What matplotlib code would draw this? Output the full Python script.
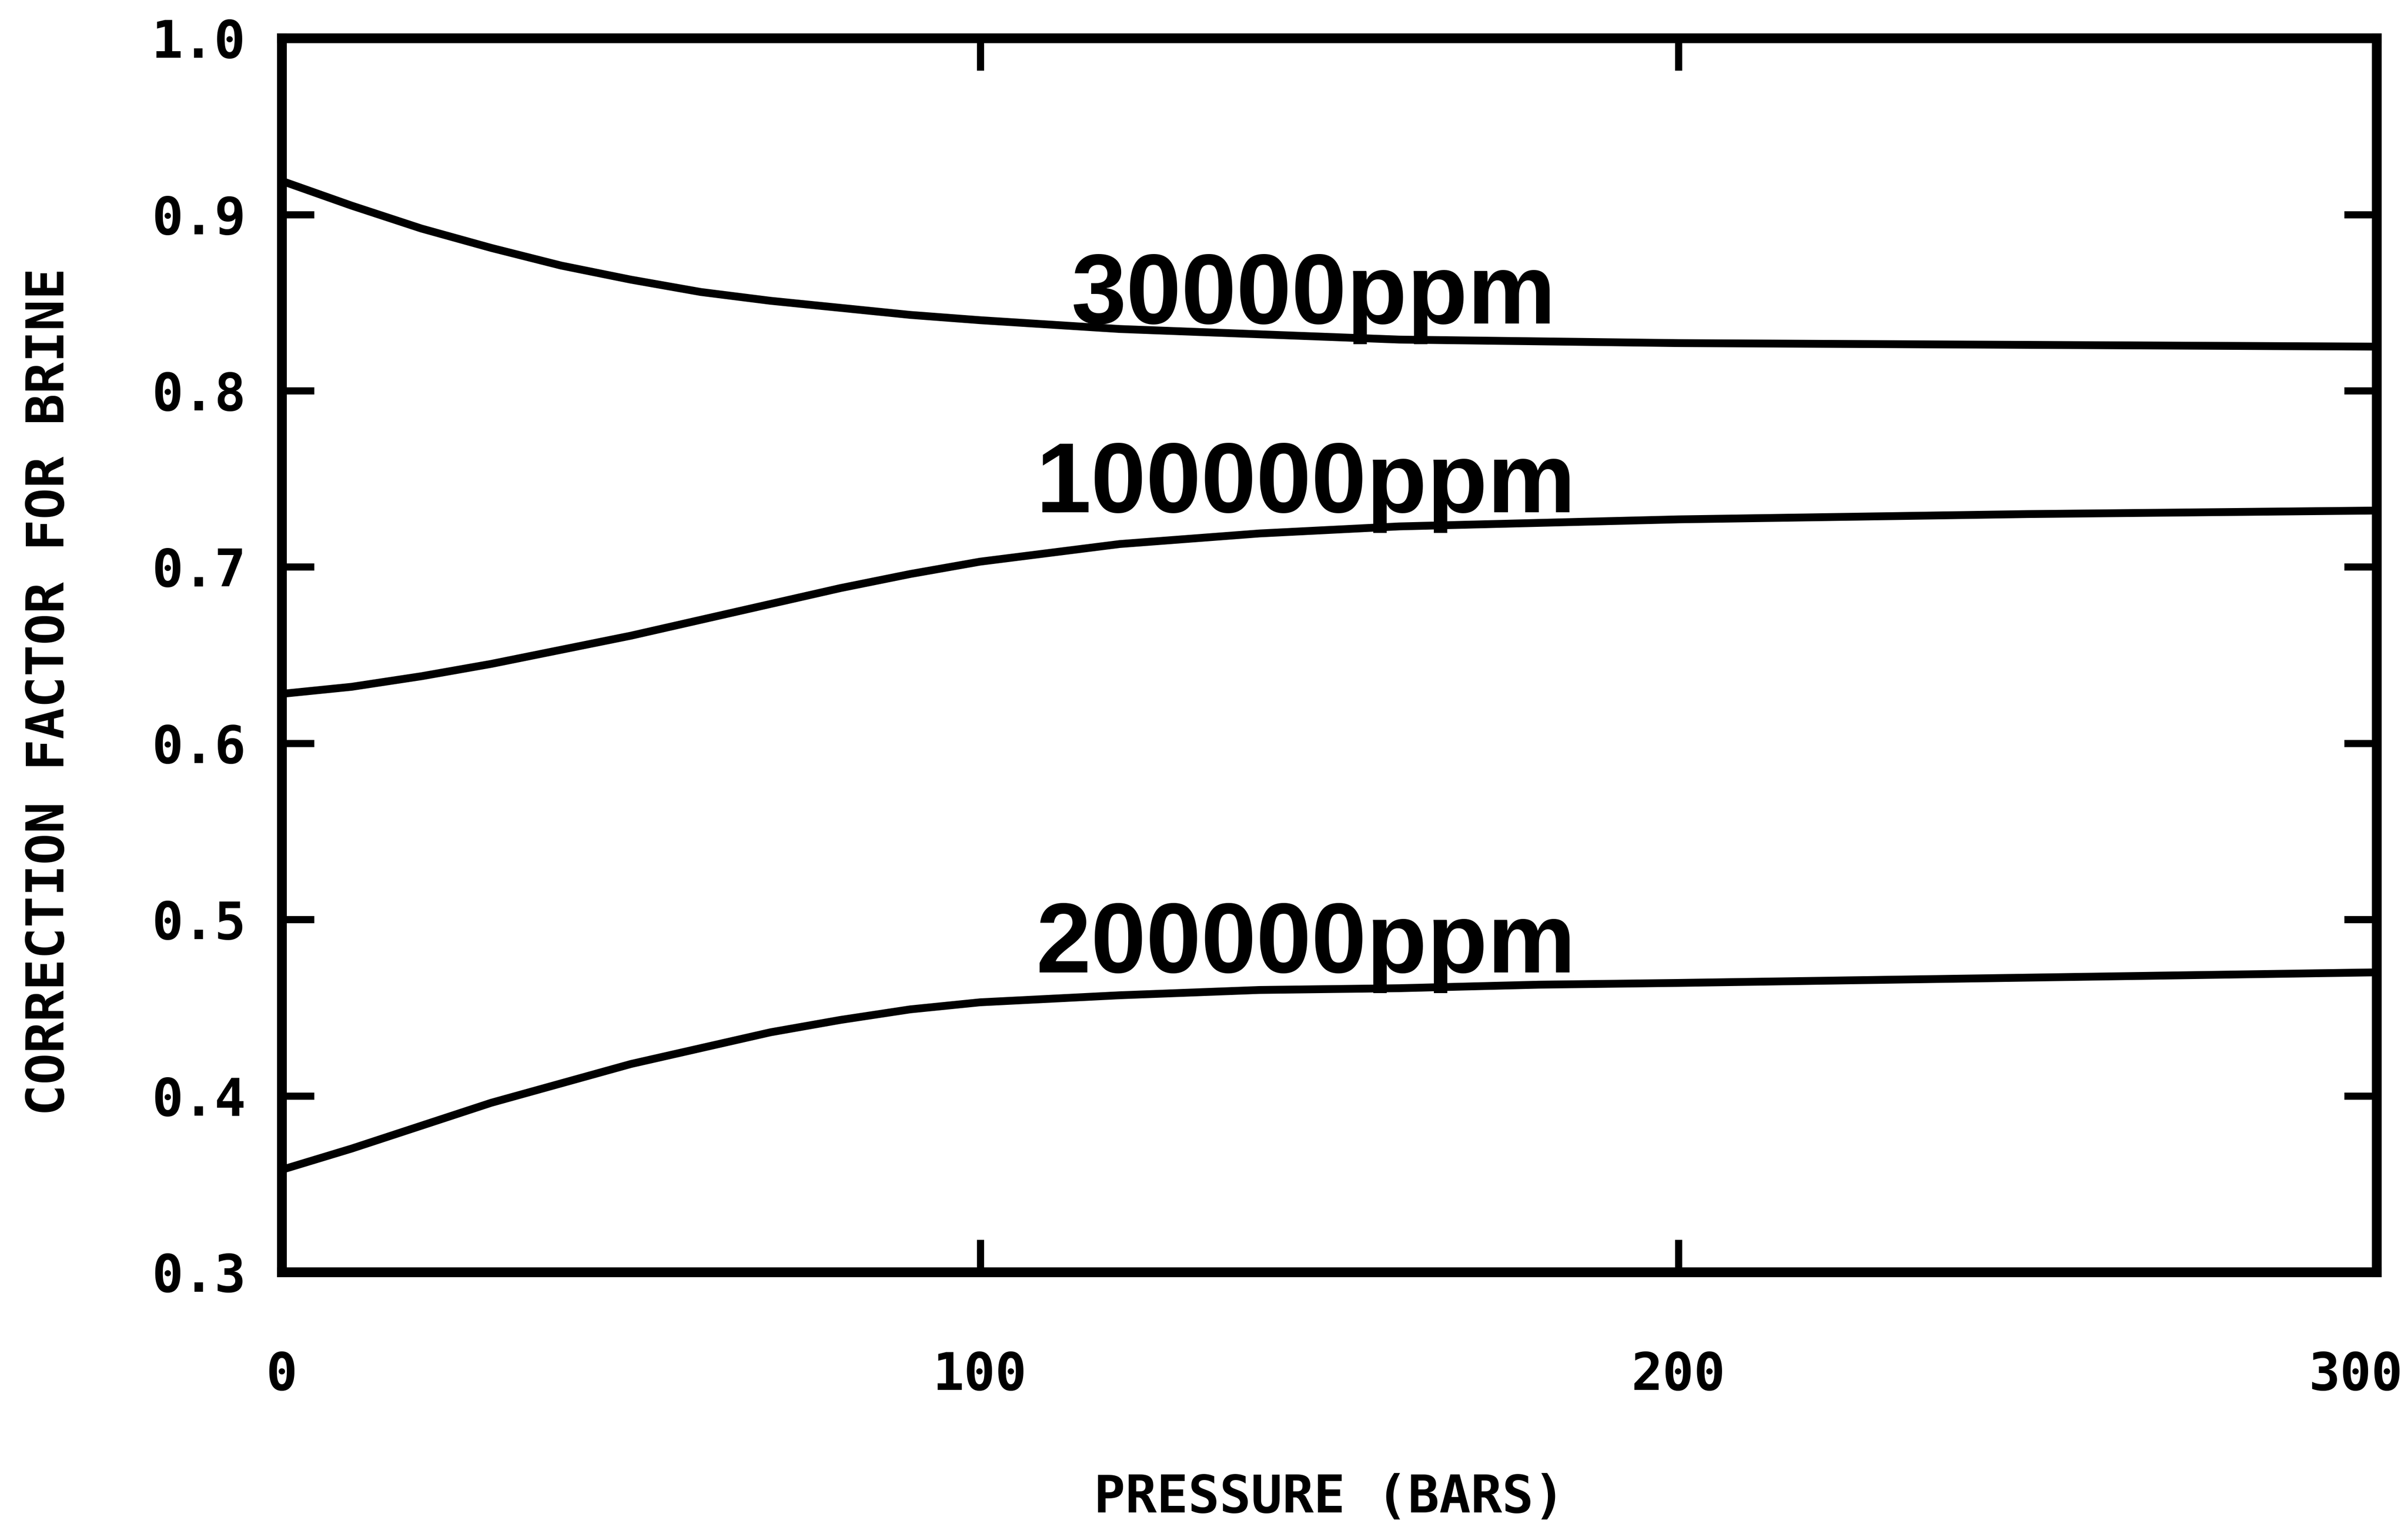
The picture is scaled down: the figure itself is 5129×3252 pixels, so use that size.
import matplotlib
matplotlib.use("Agg")
import matplotlib.pyplot as plt
import matplotlib.transforms as mtransforms

# Data
pressure = [0, 10, 20, 30, 40, 50, 60, 70, 80, 90, 100, 120, 140, 160, 180, 200, 250, 300]
cf_30000 = [0.919, 0.905, 0.892, 0.881, 0.871, 0.863, 0.856, 0.851, 0.847, 0.843,
            0.840, 0.835, 0.832, 0.829, 0.828, 0.827, 0.826, 0.825]
cf_100000 = [0.628, 0.632, 0.638, 0.645, 0.653, 0.661, 0.670, 0.679, 0.688, 0.696,
             0.703, 0.713, 0.719, 0.723, 0.725, 0.727, 0.730, 0.732]
cf_200000 = [0.358, 0.370, 0.383, 0.396, 0.407, 0.418, 0.427, 0.436, 0.443, 0.449,
             0.453, 0.457, 0.460, 0.461, 0.463, 0.464, 0.467, 0.470]
series_labels = ["30000ppm", "100000ppm", "200000ppm"]
label_pos = [(113, 0.838), (108, 0.731), (108, 0.470)]
x_ticks = [0, 100, 200, 300]
y_ticks = [0.3, 0.4, 0.5, 0.6, 0.7, 0.8, 0.9, 1.0]

fig = plt.figure(figsize=(51.29, 32.52), dpi=100)
ax = fig.add_axes([0.117, 0.167, 0.870, 0.808])

for ys in (cf_30000, cf_100000, cf_200000):
    ax.plot(pressure, ys, color="black", lw=12, solid_capstyle="butt",
            solid_joinstyle="round")

ax.set_xlim(0, 300)
ax.set_ylim(0.3, 1.0)
ax.set_xticks(x_ticks)
ax.set_yticks(y_ticks)
ax.set_xticklabels([str(v) for v in x_ticks])
ax.set_yticklabels([f"{v:.1f}" for v in y_ticks])

mono = "DejaVu Sans Mono"
for lbl in ax.get_xticklabels() + ax.get_yticklabels():
    lbl.set_fontfamily(mono)
    lbl.set_fontsize(80)
    lbl.set_fontweight("bold")

ax.tick_params(axis="both", direction="in", length=50, width=11,
               top=True, right=True, color="black")
ax.tick_params(axis="x", pad=120)
ax.tick_params(axis="y", pad=55)
for sp in ax.spines.values():
    sp.set_linewidth(15)
    sp.set_color("black")

# shift the last x tick label left so it stays inside the figure
last = ax.get_xticklabels()[-1]
last.set_transform(last.get_transform() +
                   mtransforms.ScaledTranslation(-0.45, 0, fig.dpi_scale_trans))

for txt, (xp, yp) in zip(series_labels, label_pos):
    ax.text(xp, yp, txt, fontsize=152, family="Liberation Sans",
            fontweight="bold", ha="left", va="baseline", color="black")

fig.text(0.552, 0.019, "PRESSURE (BARS)", family=mono, fontsize=80,
         fontweight="bold", ha="center", va="center")
fig.text(0.0205, 0.547, "CORRECTION FACTOR FOR BRINE", family=mono,
         fontsize=80, fontweight="bold", ha="center", va="center", rotation=90)

fig.savefig("out.png", dpi=100, facecolor="white")
